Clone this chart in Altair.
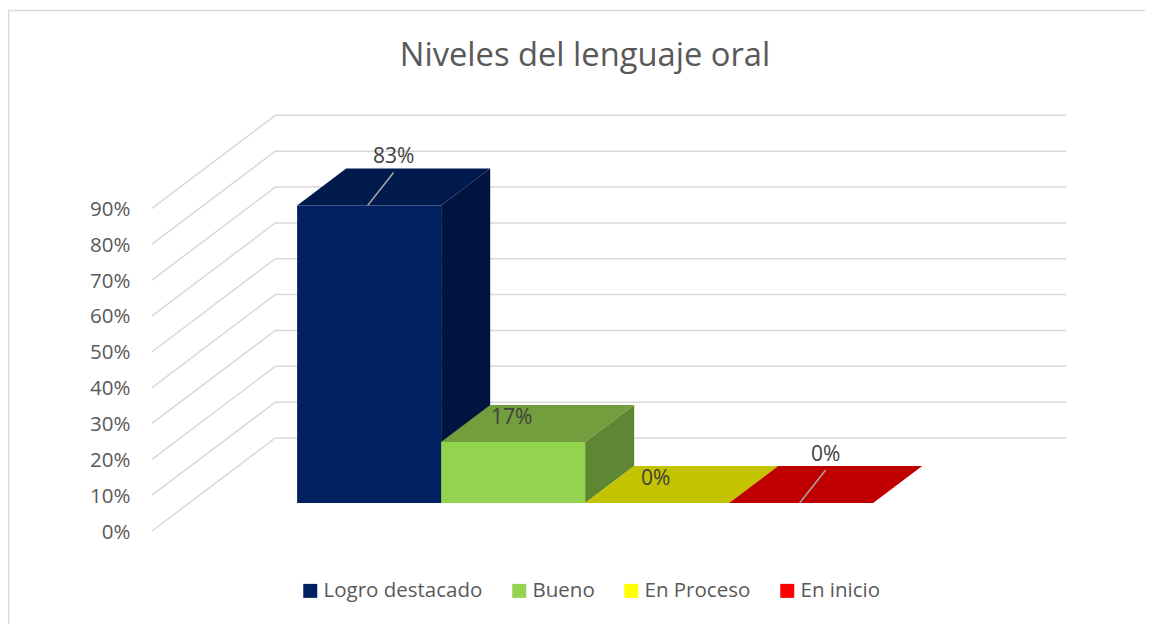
import altair as alt
import pandas as pd

# ---- chart values ----
categories = ["Logro destacado", "Bueno", "En Proceso", "En inicio"]
values = [83, 17, 0, 0]
labels = ["83%", "17%", "0%", "0%"]
has_leader = [True, False, False, True]
front_colors = ["#002060", "#92D350", "#FFFF00", "#FF0000"]
top_colors = ["#001A4D", "#729E3D", "#C4C300", "#C00000"]
side_colors = ["#00143F", "#5F8632", "#A8A800", "#A80000"]
ticks = [0, 10, 20, 30, 40, 50, 60, 70, 80, 90]

# ---- projection: one x unit is one bar width, y units are percent ----
BAR_PX = 144.0
PCT_PX = 3.585
WALL_W = 791 / BAR_PX
WALL_DX = 123.3 / BAR_PX
WALL_DY = 93 / PCT_PX
BAR_START = 108 / BAR_PX
DEPTH_FRONT = 28 / 93
DEPTH_BACK = 65 / 93


def proj(cat_x, value, depth):
    return cat_x + depth * WALL_DX, value + depth * WALL_DY


grid_rows = []
for t in ticks:
    for i, (cx, d) in enumerate([(0, 0), (0, 1), (WALL_W, 1)]):
        x, y = proj(cx, t, d)
        grid_rows.append({"level": t, "i": i, "x": x, "y": y})
grid = pd.DataFrame(grid_rows)

front_rows, top_rows, side_rows, label_rows, leader_rows = [], [], [], [], []
for k, (c, v) in enumerate(zip(categories, values)):
    l = BAR_START + k
    r = l + 1
    x0, y0 = proj(l, 0, DEPTH_FRONT)
    x1, y1 = proj(r, v, DEPTH_FRONT)
    front_rows.append({"serie": c, "x": x0, "x2": x1, "y": y0, "y2": y1})
    for d in (DEPTH_FRONT, DEPTH_BACK):
        xa, ya = proj(l, v, d)
        xb, _ = proj(r, v, d)
        top_rows.append({"serie": c, "x": xa, "x2": xb, "y": ya})
        xs_, yb = proj(r, 0, d)
        _, yt = proj(r, v, d)
        side_rows.append({"serie": c, "x": xs_, "y": yb, "y2": yt})
    cx, cy = proj(l + 0.5, v, DEPTH_FRONT)
    if has_leader[k]:
        ex, ey = cx + 26 / BAR_PX, cy + 33 / PCT_PX
        leader_rows.append({"serie": c, "i": 0, "x": cx - 1.5 / BAR_PX, "y": cy})
        leader_rows.append({"serie": c, "i": 1, "x": ex - 1.5 / BAR_PX, "y": ey})
        label_rows.append({"t": labels[k], "x": ex - 1.5 / BAR_PX, "y": ey + 15 / PCT_PX})
    else:
        label_rows.append({"t": labels[k], "x": cx - 1.5 / BAR_PX, "y": cy + 24 / PCT_PX})

front = pd.DataFrame(front_rows)
top = pd.DataFrame(top_rows)
side = pd.DataFrame(side_rows)
lab = pd.DataFrame(label_rows)
leader = pd.DataFrame(leader_rows)

FONT = "Open Sans"
VIEW_W = 866
VIEW_H = 358.5
xs = alt.Scale(domain=[0, VIEW_W / BAR_PX], nice=False, zero=False)
ys = alt.Scale(domain=[0, VIEW_H / PCT_PX], nice=False, zero=False)
y_axis = alt.Axis(
    values=ticks, labelExpr="datum.value + '%'", domain=False, ticks=False, grid=False,
    labelPadding=22, labelOffset=1, labelFont=FONT, labelFontSize=20.5, labelColor="#595959",
    labelFlush=False, labelOverlap=False, title=None)
X = alt.X("x:Q", scale=xs, axis=None)
X2 = alt.X2("x2:Q")
Yn = alt.Y("y:Q", scale=ys, axis=y_axis)
Y2 = alt.Y2("y2:Q")

frame_left = alt.Chart(pd.DataFrame({"a": [0]})).mark_rule(color="#d9d9d9", strokeWidth=1.5).encode(
    x=alt.value(-143.5), y=alt.value(-162), y2=alt.value(VIEW_H + 93))
frame_top = alt.Chart(pd.DataFrame({"a": [0]})).mark_rule(color="#d9d9d9", strokeWidth=1.5).encode(
    x=alt.value(-143.5), x2=alt.value(VIEW_W + 127), y=alt.value(-162))

grid_layer = alt.Chart(grid).mark_line(color="#d9d9d9", strokeWidth=1.5).encode(
    x=X, y=Yn, detail="level:N", order="i:Q")

side_layer = alt.Chart(side).mark_area(orient="vertical", interpolate="linear").encode(
    x=X, y=Yn, y2=Y2,
    color=alt.Color("serie:N", legend=None, scale=alt.Scale(domain=categories, range=side_colors)))

top_layer = alt.Chart(top).mark_area(orient="horizontal", interpolate="linear").encode(
    y=Yn, x=X, x2=X2,
    color=alt.Color("serie:N", legend=None, scale=alt.Scale(domain=categories, range=top_colors)))

front_layer = alt.Chart(front).mark_rect().encode(
    x=X, x2=X2, y=Yn, y2=Y2,
    color=alt.Color("serie:N", title=None, sort=categories,
                    scale=alt.Scale(domain=categories, range=front_colors),
                    legend=alt.Legend(
                        orient="none", legendX=148, legendY=408, direction="horizontal",
                        columns=4, symbolType="square", symbolSize=196, symbolStrokeWidth=0,
                        labelFont=FONT, labelFontSize=20.5, labelColor="#595959",
                        labelOffset=3, columnPadding=26, title=None)))

leader_layer = alt.Chart(leader).mark_line(color="#a6a6a6", strokeWidth=1.5).encode(
    x=X, y=Yn, detail="serie:N", order="i:Q")

text_layer = alt.Chart(lab).mark_text(font=FONT, fontSize=21, color="#404040", baseline="middle").encode(
    x=X, y=Yn, text="t:N")

chart = alt.layer(
    frame_left, frame_top, grid_layer, side_layer, top_layer, front_layer,
    leader_layer, text_layer
).resolve_scale(color="independent").properties(
    width=VIEW_W,
    height=VIEW_H,
    padding={"left": 144, "top": 164.5, "right": 127, "bottom": 93},
    autosize=alt.AutoSizeParams(type="none"),
    title=alt.TitleParams("Niveles del lenguaje oral", font=FONT, fontSize=32.7, fontWeight="normal",
                          color="#595959", anchor="middle", offset=-63),
).configure_view(stroke=None)

chart.save("out.html", embed_options={"renderer": "svg", "actions": False})
